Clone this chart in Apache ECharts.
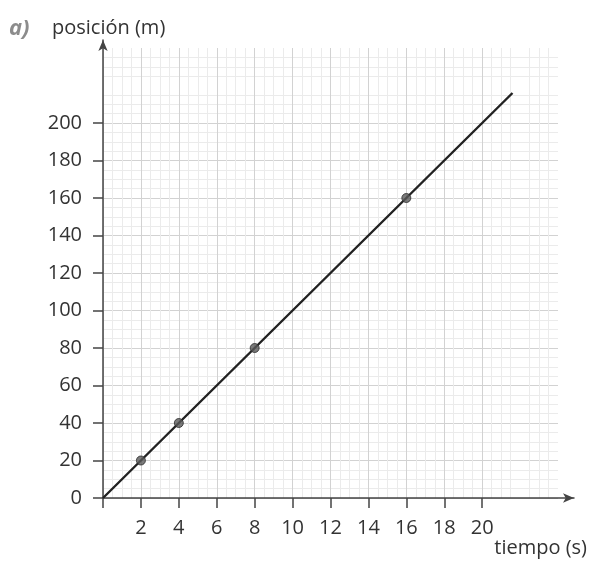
<!DOCTYPE html>
<html><head><meta charset="utf-8">
<script src="https://cdn.jsdelivr.net/npm/echarts@6/dist/echarts.min.js"></script>
<style>html,body{margin:0;padding:0;background:#fff}#c{width:590px;height:561px}</style>
</head><body><div id="c"></div>
<script>
const lineX = [0, 2, 4, 8, 16, 21.6];
const lineY = [0, 20, 40, 80, 160, 216];
const pointX = [2, 4, 8, 16];
const pointY = [20, 40, 80, 160];
const xTickLabels = [2, 4, 6, 8, 10, 12, 14, 16, 18, 20];
const xTicks = [0, 2, 4, 6, 8, 10, 12, 14, 16, 18, 20];
const yTickLabels = [0, 20, 40, 60, 80, 100, 120, 140, 160, 180, 200];
const xName = 'tiempo (s)';
const yName = 'posición (m)';
const panelLabel = 'a)';

const chart = echarts.init(document.getElementById('c'), null, {renderer: 'canvas'});
const font = 'Open Sans';
const txt = '#333';
chart.setOption({
  animation: false,
  grid: [
    {left: 103, right: 32, top: 48, bottom: 63},
    {left: 103, right: 16, top: 40, bottom: 63}
  ],
  xAxis: [
    {gridIndex: 0, type: 'value', min: 0, max: 24, interval: 2,
     axisLine: {show: false},
     axisTick: {show: true, customValues: xTicks, length: 10, lineStyle: {color: '#444', width: 1.5}},
     axisLabel: {customValues: xTickLabels, margin: 20, color: txt, fontSize: 20, fontFamily: font},
     splitLine: {show: true, lineStyle: {color: '#d2d2d2', width: 1}},
     minorTick: {show: false, splitNumber: 4},
     minorSplitLine: {show: true, lineStyle: {color: '#ebebeb', width: 1}}},
    {gridIndex: 1, type: 'value', min: 0, max: 1,
     axisLine: {show: true, onZero: false, symbol: ['none', 'arrow'], symbolSize: [7, 11], lineStyle: {color: '#444', width: 1.5}},
     axisTick: {show: false}, axisLabel: {show: false}, splitLine: {show: false}}
  ],
  yAxis: [
    {gridIndex: 0, type: 'value', min: 0, max: 240, interval: 20,
     axisLine: {show: false},
     axisTick: {show: true, customValues: yTickLabels, length: 10, lineStyle: {color: '#444', width: 1.5}},
     axisLabel: {customValues: yTickLabels, margin: 21, color: txt, fontSize: 20, fontFamily: font},
     splitLine: {show: true, lineStyle: {color: '#d2d2d2', width: 1}},
     minorTick: {show: false, splitNumber: 4},
     minorSplitLine: {show: true, lineStyle: {color: '#ebebeb', width: 1}}},
    {gridIndex: 1, type: 'value', min: 0, max: 1,
     axisLine: {show: true, onZero: false, symbol: ['none', 'arrow'], symbolSize: [7, 11], lineStyle: {color: '#444', width: 1.5}},
     axisTick: {show: false}, axisLabel: {show: false}, splitLine: {show: false}}
  ],
  graphic: [
    {type: 'text', left: 9, top: 18, style: {text: panelLabel, fill: '#8c8c8c', font: 'italic bold 22px "Open Sans"'}},
    {type: 'text', left: 52, top: 18, style: {text: yName, fill: txt, font: '20px "Open Sans"'}},
    {type: 'text', right: 3, top: 538, style: {text: xName, fill: txt, font: '20px "Open Sans"'}}
  ],
  series: [
    {type: 'line', xAxisIndex: 0, yAxisIndex: 0, data: lineX.map((x, i) => [x, lineY[i]]),
     showSymbol: false, symbol: 'none', lineStyle: {color: '#222', width: 2.4}, z: 5},
    {type: 'scatter', xAxisIndex: 0, yAxisIndex: 0, data: pointX.map((x, i) => [x, pointY[i]]),
     symbol: 'circle', symbolSize: 9, itemStyle: {color: '#5a5a5a', borderColor: '#2a2a2a', borderWidth: 1}, z: 6}
  ]
});
</script></body></html>
